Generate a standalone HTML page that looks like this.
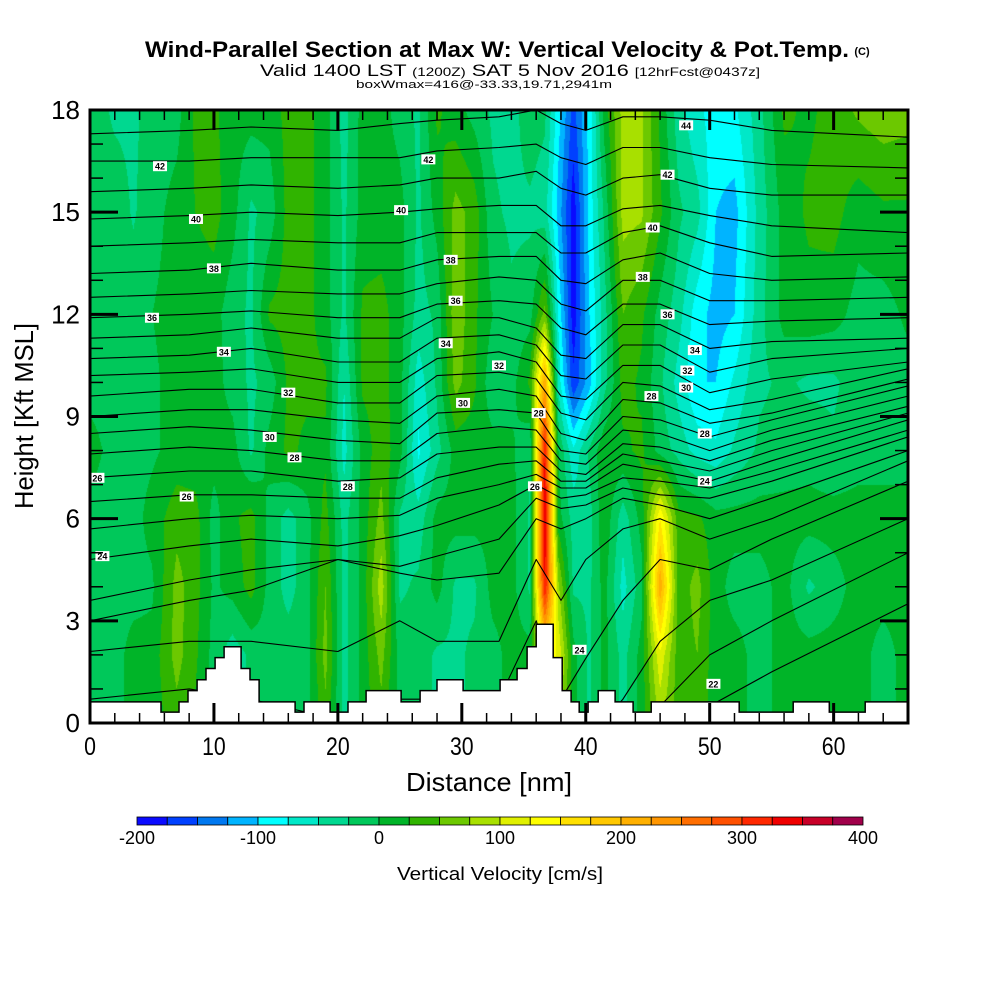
<!DOCTYPE html>
<html><head><meta charset="utf-8">
<style>
html,body{margin:0;padding:0;background:#fff;width:1000px;height:1000px;overflow:hidden}
#wrap{position:relative;width:1000px;height:1000px}
#field{position:absolute;left:90px;top:110px}
#ov{position:absolute;left:0;top:0}
text{font-family:"Liberation Sans",Arial,sans-serif;fill:#000}
</style></head>
<body>
<div id="wrap">
<canvas id="field" width="818" height="613"></canvas>
<svg id="ov" width="1000" height="1000" xmlns="http://www.w3.org/2000/svg">
<defs><clipPath id="pc"><rect x="90" y="110" width="818" height="613"/></clipPath></defs>
<g id="contours" clip-path="url(#pc)"></g>
<g id="terrain"></g>
<g id="clabels"></g>
<rect x="90" y="110" width="818" height="613" fill="none" stroke="#000" stroke-width="3"/>
<g id="ticks"></g>
<text x="497" y="57" font-size="22" font-weight="bold" text-anchor="middle" textLength="704" lengthAdjust="spacingAndGlyphs">Wind-Parallel Section at Max W: Vertical Velocity &amp; Pot.Temp.</text>
<text x="862" y="55" font-size="11" font-weight="bold" text-anchor="middle">(C)</text>
<text x="510" y="76" font-size="17" text-anchor="middle" textLength="500" lengthAdjust="spacingAndGlyphs">Valid 1400 LST <tspan font-size="12">(1200Z)</tspan> SAT 5 Nov 2016 <tspan font-size="12">[12hrFcst@0437z]</tspan></text>
<text x="484" y="88" font-size="11" text-anchor="middle" textLength="256" lengthAdjust="spacingAndGlyphs">boxWmax=416@-33.33,19.71,2941m</text>
<text x="489" y="791" font-size="26" text-anchor="middle" textLength="166" lengthAdjust="spacingAndGlyphs">Distance [nm]</text>
<text transform="translate(33,416) rotate(-90)" font-size="26" text-anchor="middle" textLength="186" lengthAdjust="spacingAndGlyphs">Height [Kft MSL]</text>
<g id="cbar"></g>
<text x="500" y="880" font-size="18" text-anchor="middle" textLength="206" lengthAdjust="spacingAndGlyphs">Vertical Velocity [cm/s]</text>
</svg>
</div>
<script>
// ---- data ----
const colXs=[0,2,3.5,5,7,8.5,10,11.5,13,14.5,16,17.5,19,20.5,22,23.5,25,26.5,28,29.5,31,32.5,34,35.5,36.7,37.8,39,40.3,41.5,43,44.5,46,47.5,49,50.5,52,54,56,58,60,62,64,66];
const rowHs=[18,15,12,10,8,6,4,2,0];
const w18=[-10,-30,-30,-15,-10,30,30,10,10,10,35,35,10,-35,10,10,-10,-30,30,10,-10,-30,-35,-10,-20,-90,-160,-90,10,85,80,20,-40,-70,-85,-80,-35,30,20,35,55,65,60];
const w15=[-10,-10,-28,-10,10,25,35,10,-30,-15,35,35,10,-30,10,10,10,-30,10,60,40,-20,-30,-30,-40,-110,-190,-90,-20,85,80,30,-20,-40,-100,-110,-40,10,30,35,10,20,20];
const w12=[-10,-10,-10,0,10,10,10,-15,-30,30,35,35,10,-30,30,35,10,-35,-20,70,30,0,-20,-10,60,-80,-190,-100,-35,50,30,-10,-40,-90,-110,-100,-35,10,15,10,-10,-10,5];
const w10=[-10,-10,-10,-5,10,10,10,-10,-30,-15,30,30,30,-50,30,35,10,-65,-20,60,30,-20,-10,30,220,-60,-170,-110,-35,35,20,-20,-60,-100,-100,-70,-30,-20,-30,-30,-10,-10,-10];
const w8=[10,-10,-10,-5,10,10,10,10,-30,10,30,20,20,-60,10,40,10,-80,-35,10,10,10,5,-20,330,0,-70,-20,20,20,30,-10,-35,-60,-70,-45,-20,-15,-10,-20,-10,-10,-10];
const w6=[-10,-10,-10,10,40,35,-10,20,35,-10,-35,-10,35,-35,10,60,-30,-40,10,10,10,10,10,-30,350,10,-35,-35,20,-40,10,150,35,30,10,10,10,10,10,10,10,10,10];
const w4=[-10,-10,-10,-5,60,35,-5,10,35,-10,-35,-10,50,-35,10,90,-30,-20,10,-30,-30,10,10,-30,330,80,-30,-30,10,-60,-10,220,35,60,10,-10,-10,10,-30,-10,10,10,10];
const w2=[-10,-10,10,10,60,30,-10,-40,-20,-10,-10,-10,60,-35,10,60,-10,-10,-30,-30,-20,-10,10,10,150,120,10,-30,10,-35,10,120,35,50,10,10,-10,10,10,10,10,-10,10];
const w0=[-10,-10,10,10,40,20,-10,-40,-20,-10,-10,-10,40,-35,10,40,-10,-10,-30,-30,-20,-10,10,10,100,80,10,-30,10,-35,10,80,35,40,10,10,-10,10,10,10,10,-10,10];
const binColors=["#0a0aff","#0040ff","#0078f0","#00b4ff","#00ffff","#00e8c8","#00d890","#00c85a","#00b428","#30b400","#6cc800","#a8e000","#e0f000","#ffff00","#ffe000","#ffc800","#ffb000","#ff9600","#ff6e00","#ff5000","#ff2800","#f00000","#c80028","#a0004a"];
const cbarLabels=[-200,-100,0,100,200,300,400];
const xTicks=[0,10,20,30,40,50,60];
const yTicks=[0,3,6,9,12,15,18];
const terrEdges=[0,5.73,7.18,7.91,8.64,9.36,10.09,10.82,12.19,12.91,13.64,16.55,17.27,19.37,20.82,22.28,25.1,26.63,28.0,30.1,33.09,34.46,35.27,36.0,37.37,38.1,38.82,39.47,40.19,41.0,42.37,43.82,45.28,52.38,56.74,59.65,62.55,66];
const terrH=[0.62,0.32,0.62,0.95,1.27,1.6,1.92,2.24,1.6,1.27,0.62,0.32,0.62,0.32,0.62,0.95,0.62,0.95,1.27,0.95,1.27,1.6,2.24,2.9,1.92,0.95,0.62,0.32,0.62,0.95,0.62,0.32,0.62,0.32,0.62,0.32,0.62];
const cXs=[0,8,13,20,25,28,33,36,38,40,43,46,50,55,66];
const th1=[17.3,17.4,17.5,17.4,17.6,17.7,17.8,18.0,17.6,17.4,17.8,17.8,17.7,17.4,17.2];
const th2=[16.5,16.5,16.6,16.6,16.6,16.8,16.9,17.0,16.6,16.4,16.9,16.9,16.6,16.4,16.3];
const th3=[15.6,15.7,15.8,15.7,15.8,16.0,16.0,16.2,15.7,15.5,16.0,16.1,15.7,15.5,15.5];
const th4=[14.8,14.9,15.0,14.9,15.0,15.1,15.2,15.2,14.6,14.6,15.1,15.2,14.9,14.6,14.4];
const th5=[14.0,14.1,14.2,14.1,14.1,14.4,14.4,14.4,13.8,13.8,14.4,14.6,14.1,13.7,13.8];
const th6=[13.2,13.3,13.5,13.3,13.3,13.6,13.7,13.7,13.0,12.9,13.6,13.8,13.2,13.0,13.1];
const th7=[12.5,12.6,12.7,12.6,12.6,12.9,13.1,13.0,12.3,12.1,13.0,13.0,12.4,12.4,12.5];
const th8=[11.9,12.0,12.1,11.9,11.9,12.3,12.4,12.3,11.6,11.4,12.3,12.3,11.7,11.8,11.9];
const th9=[11.3,11.4,11.6,11.3,11.3,11.9,11.9,11.6,10.8,10.7,11.7,11.7,11.0,11.2,11.3];
const th10=[10.7,10.8,11.0,10.6,10.6,11.3,11.4,11.1,10.2,10.1,11.1,11.1,10.3,10.7,11.0];
const th11=[10.2,10.3,10.4,10.0,10.0,10.7,10.9,10.6,9.6,9.5,10.5,10.5,9.7,10.1,10.6];
const th12=[9.6,9.8,9.8,9.4,9.4,10.2,10.3,10.1,9.1,8.9,10.0,9.9,9.2,9.5,10.4];
const th13=[9.0,9.2,9.2,8.9,8.8,9.6,9.8,9.6,8.5,8.3,9.5,9.4,8.8,9.1,10.1];
const th14=[8.5,8.7,8.6,8.3,8.2,9.1,9.2,9.1,8.0,7.9,9.0,8.9,8.4,8.9,9.9];
const th15=[7.9,8.1,8.0,7.7,7.7,8.5,8.7,8.6,7.7,7.6,8.6,8.5,8.0,8.6,9.6];
const th16=[7.2,7.4,7.4,7.1,7.2,7.9,8.1,8.1,7.4,7.3,8.2,8.1,7.7,8.3,9.3];
const th17=[6.5,6.7,6.7,6.6,6.6,7.2,7.6,7.7,7.1,7.1,7.9,7.7,7.4,8.0,9.1];
const th18=[5.7,6.0,6.1,6.0,6.1,6.6,7.0,7.3,6.9,6.9,7.6,7.4,7.1,7.7,8.9];
const th19=[4.8,5.2,5.4,5.2,5.5,5.8,6.4,7.0,6.6,6.7,7.2,7.1,6.9,7.4,8.6];
const th20=[3.6,4.2,4.5,4.8,4.6,4.9,5.4,6.6,6.3,6.4,6.9,6.7,6.6,7.1,8.4];
const th21=[3.0,3.6,3.9,4.8,4.4,4.2,4.4,6.0,5.7,6.0,6.6,6.4,6.0,6.6,8.0];
const th22=[2.1,2.4,2.4,2.1,3.0,2.4,2.4,4.8,3.6,4.8,5.7,6.0,5.4,6.0,7.7];
const th23=[0.7,1.0,0.7,0.1,0.7,0.7,0.7,3.0,0.7,1.9,3.6,4.8,4.5,5.4,7.1];
const th24=[-0.5,-0.5,-0.5,-0.5,-0.5,-0.5,-0.5,0.7,-0.5,-0.5,0.7,2.4,3.6,4.2,6.0];
const th25=[-1,-1,-1,-1,-1,-1,-1,-1,-1,-1,-1,0.5,2.0,3.0,5.0];
const th26=[-1,-1,-1,-1,-1,-1,-1,-1,-1,-1,-1,-1,0.5,1.5,3.5];
const labTxt=["42","42","40","40","38","38","36","36","34","34","32","32","30","30","28","28","26","26","24","28","26","44","42","40","38","36","34","32","30","28","28","24","24","22"];
const labX=[5.65,27.3,8.55,25.1,10.0,29.1,5.0,29.5,10.8,28.7,16.0,33.0,14.5,30.1,16.5,20.8,7.8,0.6,1.0,36.2,35.9,48.1,46.6,45.4,44.6,46.6,48.8,48.2,48.1,45.3,49.6,49.6,39.5,50.3];
const labH=[16.35,16.55,14.8,15.06,13.35,13.6,11.9,12.4,10.9,11.15,9.7,10.5,8.4,9.4,7.8,6.95,6.65,7.2,4.9,9.1,6.95,17.55,16.1,14.55,13.1,12.0,10.95,10.35,9.85,9.6,8.5,7.1,2.15,1.15];

const X0=90,X1=908,Y0=723,Y1=110;
function X(nm){return X0+nm*(X1-X0)/66;}
function Y(h){return Y0-h*(Y0-Y1)/18;}
const NS="http://www.w3.org/2000/svg";
function mk(tag,attrs,parent){const e=document.createElementNS(NS,tag);for(const k in attrs)e.setAttribute(k,attrs[k]);parent.appendChild(e);return e;}

const rows=[w18,w15,w12,w10,w8,w6,w4,w2,w0];
function hexRgb(c){return [parseInt(c.substr(1,2),16),parseInt(c.substr(3,2),16),parseInt(c.substr(5,2),16)];}
const rgb=binColors.map(hexRgb);
(function(){
  const cv=document.getElementById('field');const ctx=cv.getContext('2d');
  const W=cv.width,H=cv.height;const img=ctx.createImageData(W,H);
  const ci=[],cf=[];
  for(let px=0;px<W;px++){const nm=(px+0.5)*66/W;let i=0;while(i<colXs.length-2&&colXs[i+1]<nm)i++;ci.push(i);cf.push(Math.max(0,Math.min(1,(nm-colXs[i])/(colXs[i+1]-colXs[i]))));}
  for(let py=0;py<H;py++){
    const h=18-(py+0.5)*18/H;let r=0;while(r<rowHs.length-2&&rowHs[r+1]>h)r++;
    const rf=Math.max(0,Math.min(1,(rowHs[r]-h)/(rowHs[r]-rowHs[r+1])));
    const A=rows[r],B=rows[r+1];
    for(let px=0;px<W;px++){
      const i=ci[px],f=cf[px];
      const a=A[i]*(1-f)+A[i+1]*f,b=B[i]*(1-f)+B[i+1]*f;
      const v=a*(1-rf)+b*rf;
      let k=Math.floor((v+200)/25);if(k<0)k=0;if(k>23)k=23;
      const o=(py*W+px)*4;img.data[o]=rgb[k][0];img.data[o+1]=rgb[k][1];img.data[o+2]=rgb[k][2];img.data[o+3]=255;
    }
  }
  ctx.putImageData(img,0,0);
})();

const thLines=[th1,th2,th3,th4,th5,th6,th7,th8,th9,th10,th11,th12,th13,th14,th15,th16,th17,th18,th19,th20,th21,th22,th23,th24,th25,th26];
const cg=document.getElementById('contours');
thLines.forEach(function(L,li){
  let d='';
  for(let i=0;i<cXs.length;i++){d+=(i?'L':'M')+X(cXs[i]).toFixed(1)+' '+Y(L[i]).toFixed(1);}
  const p=mk('path',{d:d,fill:'none',stroke:'#000','stroke-width':'1.1','stroke-linejoin':'round'},cg);
  
  
});

(function(){
  let d='M'+X(0)+' '+Y(0);
  for(let i=0;i<terrH.length;i++){d+=' L'+X(terrEdges[i]).toFixed(1)+' '+Y(terrH[i]).toFixed(1)+' L'+X(terrEdges[i+1]).toFixed(1)+' '+Y(terrH[i]).toFixed(1);}
  d+=' L'+X(66)+' '+Y(0)+' Z';
  const p=mk('path',{d:d,fill:'#fff',stroke:'#000','stroke-width':'1.5'},document.getElementById('terrain'));
  
  
})();

(function(){
  const g=document.getElementById('clabels');
  labTxt.forEach(function(t,i){
    const x=X(labX[i]),y=Y(labH[i]);
    const r=mk('rect',{x:x-7,y:y-5,width:14,height:10,fill:'#fff'},g);
    
    
    const tx=mk('text',{x:x,y:y+3.5,'font-size':'9','font-weight':'bold','text-anchor':'middle'},g);
    tx.textContent=t;
    
    
  });
})();

(function(){
  const g=document.getElementById('ticks');
  for(let nm=0;nm<=66;nm+=2){
    const major=(nm%10===0);const len=major?20:10;const sw=major?3:1.5;
    const l1=mk('line',{x1:X(nm),x2:X(nm),y1:Y0,y2:Y0-len,stroke:'#000','stroke-width':sw},g);
    
    
    const l2=mk('line',{x1:X(nm),x2:X(nm),y1:Y1,y2:Y1+len,stroke:'#000','stroke-width':sw},g);
    
    
  }
  for(let h=0;h<=18;h++){
    const major=(h%3===0);const len=major?28:13;const sw=major?3:1.5;
    const l1=mk('line',{x1:X0,x2:X0+len,y1:Y(h),y2:Y(h),stroke:'#000','stroke-width':sw},g);
    
    
    const l2=mk('line',{x1:X1,x2:X1-len,y1:Y(h),y2:Y(h),stroke:'#000','stroke-width':sw},g);
    
    
  }
  xTicks.forEach(function(v){
    const t=mk('text',{x:X(v),y:755,'font-size':'25','text-anchor':'middle',transform:'translate('+X(v)+',0) scale(0.85,1) translate('+(-X(v))+',0)'},g);
    t.textContent=v;
    
    
  });
  yTicks.forEach(function(v){
    const t=mk('text',{x:80,y:Y(v)+9,'font-size':'26','text-anchor':'end'},g);
    t.textContent=v;
    
    
  });
})();

(function(){
  const g=document.getElementById('cbar');
  const cx0=137,cx1=863,cw=(cx1-cx0)/binColors.length;
  binColors.forEach(function(c,i){
    const r=mk('rect',{x:cx0+i*cw,y:817,width:cw,height:8,fill:c,stroke:'#000','stroke-width':'0.8'},g);
    
    
  });
  cbarLabels.forEach(function(v){
    const x=cx0+(v+200)/600*(cx1-cx0);
    const t=mk('text',{x:x,y:844,'font-size':'18','text-anchor':'middle'},g);
    t.textContent=v;
    
    
  });
})();
</script>
</body></html>
